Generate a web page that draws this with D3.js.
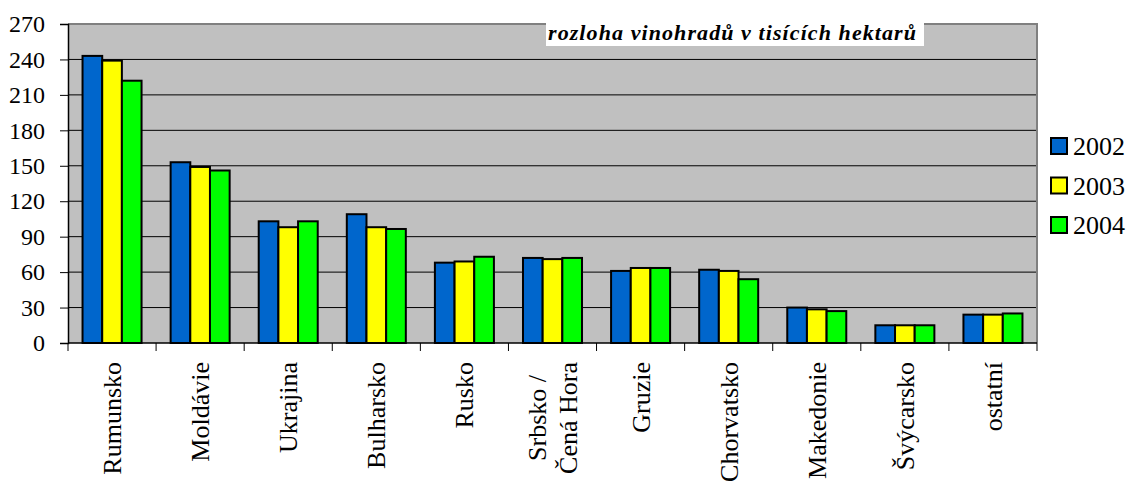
<!DOCTYPE html>
<html><head><meta charset="utf-8">
<script src="https://cdn.jsdelivr.net/npm/d3@7"></script>
<style>body{margin:0;background:#fff}svg{display:block}</style>
</head><body>
<svg id="c" width="1131" height="481"></svg>
<script>
const categories = ["Rumunsko","Moldávie","Ukrajina","Bulharsko","Rusko","Srbsko /\nČená Hora","Gruzie","Chorvatsko","Makedonie","Švýcarsko","ostatní"];
const seriesNames = ["2002","2003","2004"];
const v2002 = [243,153,103,109,68,72,61,62,30,15,24];
const v2003 = [239,149,98,98,69,71,63.5,61,28.5,15,24];
const v2004 = [222,146,103,96.5,73,72,63.5,54,27,15,25];
const colors = ["#0066cc","#ffff00","#00ff00"];
const yTicks = [0,30,60,90,120,150,180,210,240,270];
const title = "rozloha vinohradů v tisících hektarů";

const FONT = "Liberation Serif";
const series = [v2002,v2003,v2004];
const svg = d3.select("#c");
const L=68,R=1037,T=24,B=343;
const x = d3.scaleBand().domain(categories).range([L,R]).paddingInner(0.33).paddingOuter(0.165);
const xs = d3.scaleBand().domain(d3.range(3)).range([0,x.bandwidth()]);
const xb = d3.scaleBand().domain(categories).range([L,R]);
const y = d3.scaleLinear().domain([0,270]).range([B,T]);

svg.append("rect").attr("x",L).attr("y",T).attr("width",R-L).attr("height",B-T).attr("fill","#c0c0c0");
svg.append("g").selectAll("line").data(yTicks.slice(1)).join("line")
  .attr("x1",L).attr("x2",R).attr("y1",d=>y(d)).attr("y2",d=>y(d)).attr("stroke","#000").attr("stroke-width",1);
svg.append("path").attr("d",`M${L},${T}H${R}V${B}`).attr("fill","none").attr("stroke","#808080").attr("stroke-width",2);

const g = svg.append("g");
series.forEach((s,si)=>{
  g.selectAll(null).data(s).join("rect")
    .attr("x",(d,i)=>x(categories[i])+xs(si))
    .attr("y",d=>y(d))
    .attr("width",xs.bandwidth())
    .attr("height",d=>B-y(d))
    .attr("fill",colors[si]).attr("stroke","#000").attr("stroke-width",2);
});

const ya = svg.append("g").attr("transform",`translate(${L},0)`)
  .call(d3.axisLeft(y).tickValues(yTicks).tickSize(8).tickPadding(15));
ya.attr("font-family",FONT).attr("font-size",24);
ya.select(".domain").attr("stroke","#000").attr("stroke-width",1.5);
ya.selectAll("text").attr("font-family",FONT).attr("font-size",24).attr("fill","#000");
ya.selectAll("line").attr("stroke","#000");

const xa = svg.append("g").attr("transform",`translate(0,${B})`);
xa.append("line").attr("x1",L).attr("x2",R).attr("stroke","#000").attr("stroke-width",1.5);
const tickPos = categories.map(c=>xb(c)).concat([R]);
xa.selectAll(".t").data(tickPos).join("line").attr("x1",d=>d).attr("x2",d=>d).attr("y1",0).attr("y2",8).attr("stroke","#000");

categories.forEach(c=>{
  const lines = c.split("\n");
  const cx = xb(c)+xb.bandwidth()/2;
  const tg = svg.append("g");
  const texts = lines.map(ln=>tg.append("text").text(ln).attr("font-family",FONT).attr("font-size",26).attr("fill","#000"));
  const maxL = d3.max(texts.map(t=>t.node().getComputedTextLength()));
  const lh = 31;
  texts.forEach((t,li)=>{
    const lx = cx + (li-(lines.length-1)/2)*lh + 9;
    const ly = 362 + maxL/2;
    t.attr("text-anchor","middle").attr("transform",`translate(${lx},${ly}) rotate(-90)`);
  });
});

svg.append("rect").attr("x",546).attr("y",23).attr("width",378).attr("height",23).attr("fill","#fff");
svg.append("text").attr("x",548).attr("y",40).text(title).attr("font-family",FONT)
  .attr("font-size",22).attr("font-weight","bold").attr("font-style","italic").attr("fill","#000")
  .attr("textLength",368).attr("lengthAdjust","spacing");

const lg = svg.append("g");
seriesNames.forEach((n,i)=>{
  const cy = 146 + i*39.5;
  lg.append("rect").attr("x",1051).attr("y",cy-8).attr("width",16).attr("height",16)
    .attr("fill",colors[i]).attr("stroke","#000").attr("stroke-width",2);
  lg.append("text").attr("x",1073).attr("y",cy+9).text(n).attr("font-family",FONT).attr("font-size",26).attr("fill","#000");
});
</script>
</body></html>
